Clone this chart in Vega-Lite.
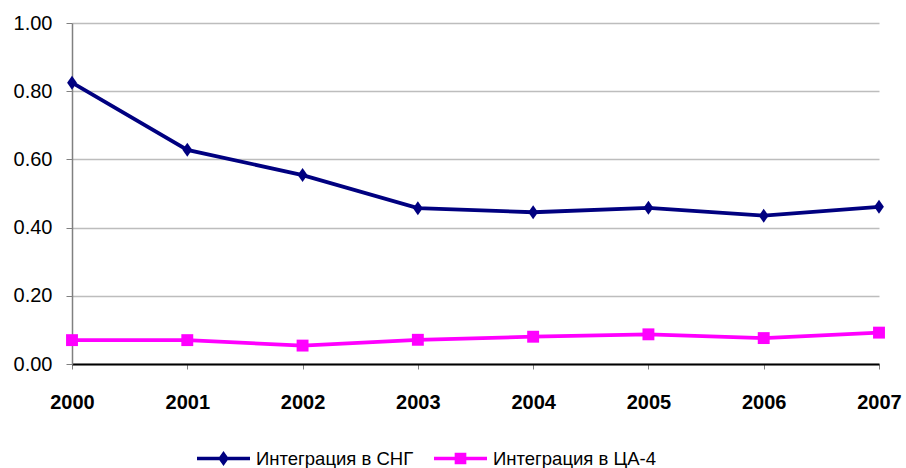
{
  "$schema": "https://vega.github.io/schema/vega-lite/v6.json",
  "width": 807,
  "height": 341,
  "autosize": {"type": "none"},
  "padding": {"left": 72, "top": 23, "right": 27, "bottom": 104},
  "background": "white",
  "config": {
    "view": {"stroke": null},
    "font": "Liberation Sans"
  },
  "data": {
    "values": [
      {"year": "2000", "series": "Интеграция в СНГ", "value": 0.825},
      {"year": "2001", "series": "Интеграция в СНГ", "value": 0.628},
      {"year": "2002", "series": "Интеграция в СНГ", "value": 0.554},
      {"year": "2003", "series": "Интеграция в СНГ", "value": 0.457},
      {"year": "2004", "series": "Интеграция в СНГ", "value": 0.445},
      {"year": "2005", "series": "Интеграция в СНГ", "value": 0.458},
      {"year": "2006", "series": "Интеграция в СНГ", "value": 0.435},
      {"year": "2007", "series": "Интеграция в СНГ", "value": 0.461},
      {"year": "2000", "series": "Интеграция в ЦА-4", "value": 0.070},
      {"year": "2001", "series": "Интеграция в ЦА-4", "value": 0.070},
      {"year": "2002", "series": "Интеграция в ЦА-4", "value": 0.054},
      {"year": "2003", "series": "Интеграция в ЦА-4", "value": 0.071},
      {"year": "2004", "series": "Интеграция в ЦА-4", "value": 0.080},
      {"year": "2005", "series": "Интеграция в ЦА-4", "value": 0.087},
      {"year": "2006", "series": "Интеграция в ЦА-4", "value": 0.076},
      {"year": "2007", "series": "Интеграция в ЦА-4", "value": 0.092}
    ]
  },
  "encoding": {
    "x": {
      "field": "year", "type": "ordinal",
      "scale": {"type": "point", "padding": 0},
      "axis": {
        "title": null, "labelAngle": 0,
        "labelFont": "Liberation Sans", "labelFontSize": 20, "labelFontWeight": "bold", "labelColor": "#000000",
        "domainColor": "#000000", "domainWidth": 2,
        "tickColor": "#808080", "tickSize": 5, "tickWidth": 1,
        "labelPadding": 23, "grid": false
      }
    },
    "y": {
      "field": "value", "type": "quantitative",
      "scale": {"domain": [0, 1], "nice": false, "zero": true},
      "axis": {
        "title": null, "values": [0, 0.2, 0.4, 0.6, 0.8, 1.0], "format": ".2f",
        "labelFont": "Liberation Sans", "labelFontSize": 20, "labelColor": "#000000",
        "domainColor": "#808080", "domainWidth": 1.5,
        "tickColor": "#808080", "tickSize": 6, "tickWidth": 1,
        "labelPadding": 14,
        "grid": true, "gridColor": "#bdbdbd", "gridWidth": 1.3
      }
    },
    "color": {
      "field": "series", "type": "nominal",
      "scale": {"domain": ["Интеграция в СНГ", "Интеграция в ЦА-4"], "range": ["#000080", "#ff00ff"]},
      "legend": {
        "title": null, "orient": "none", "direction": "horizontal",
        "legendX": 125, "legendY": 409,
        "padding": 0,
        "symbolSize": 2809, "symbolStrokeWidth": 0,
        "labelFont": "Liberation Sans", "labelFontSize": 18.5, "labelColor": "#000000",
        "labelLimit": 400,
        "labelOffset": 6, "columnPadding": 20,
        "encode": {
          "symbols": {
            "update": {
              "shape": {"signal": "datum.value === 'Интеграция в СНГ' ? 'M-1,-0.07L1,-0.07L1,0.07L-1,0.07Z M0,-0.28L0.2,0L0,0.28L-0.2,0Z' : 'M-1,-0.07L1,-0.07L1,0.07L-1,0.07Z M-0.22,-0.22L0.22,-0.22L0.22,0.22L-0.22,0.22Z'"},
              "strokeWidth": {"value": 0}
            }
          }
        }
      }
    }
  },
  "layer": [
    {
      "mark": {"type": "line", "strokeWidth": 3.8},
      "encoding": {}
    },
    {
      "transform": [{"filter": "datum.series === 'Интеграция в СНГ'"}],
      "mark": {"type": "point", "filled": true, "opacity": 1, "size": 196, "shape": "M0,-1L0.7,0L0,1L-0.7,0Z"},
      "encoding": {}
    },
    {
      "transform": [{"filter": "datum.series === 'Интеграция в ЦА-4'"}],
      "mark": {"type": "point", "filled": true, "opacity": 1, "size": 196, "shape": "M-0.85,-0.85L0.85,-0.85L0.85,0.85L-0.85,0.85Z"},
      "encoding": {}
    }
  ]
}
